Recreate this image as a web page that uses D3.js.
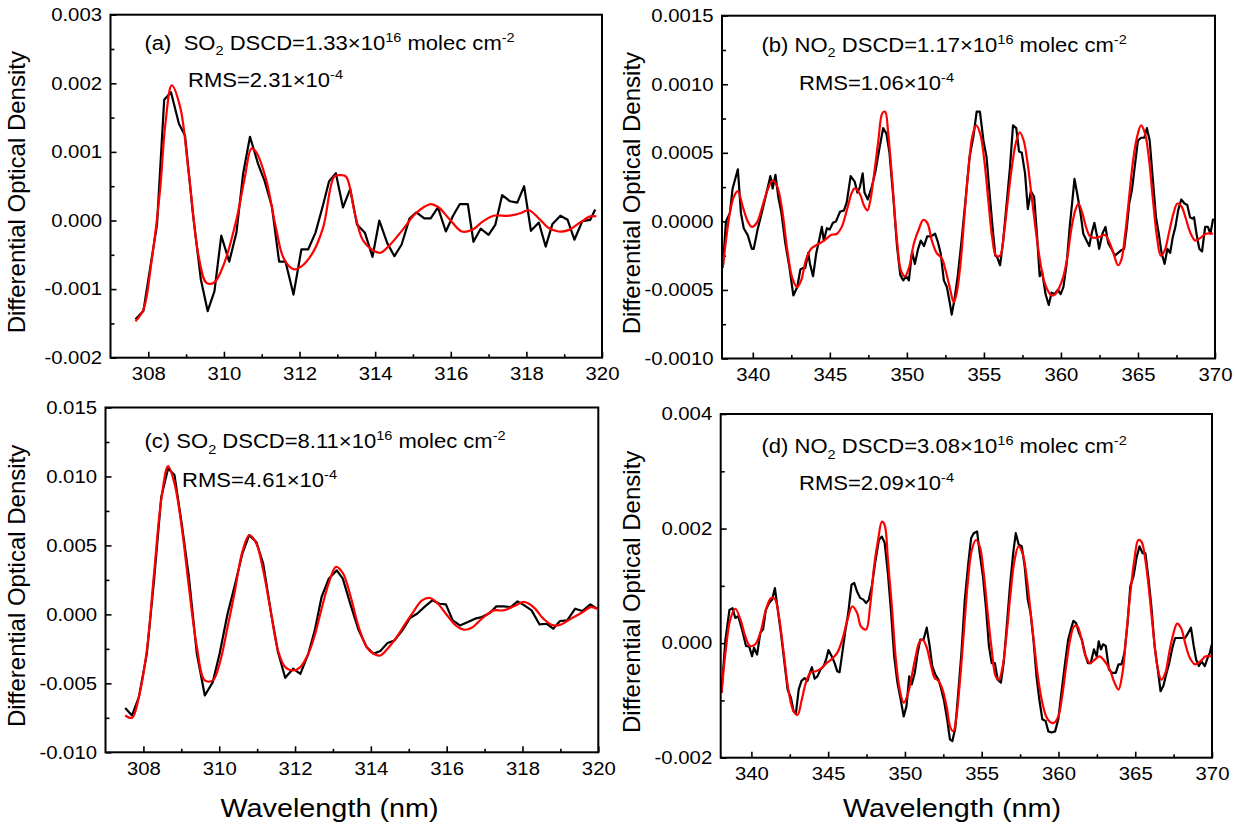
<!DOCTYPE html>
<html>
<head>
<meta charset="utf-8">
<script src="https://cdn.jsdelivr.net/npm/d3@7"></script>
<style>
  body { margin: 0; background: #fff; }
  svg { display: block; }
  text { font-family: "Liberation Sans", Arial, sans-serif; fill: #000; }
</style>
</head>
<body>
<svg id="chart" width="1235" height="830"></svg>
<script>
// ---- data ----
// (a) SO2, low column
var aMeasWl = [307.66,307.87,308.23,308.42,308.6,308.81,308.97,309.18,309.39,309.57,309.75,309.93,310.14,310.33,310.51,310.69,310.9,311.08,311.27,311.46,311.63,311.84,312.05,312.23,312.42,312.61,312.78,312.96,313.15,313.34,313.52,313.73,313.93,314.11,314.32,314.51,314.7,314.91,315.09,315.3,315.47,315.66,315.87,316.06,316.24,316.45,316.6,316.79,317.0,317.18,317.36,317.57,317.76,317.94,318.12,318.33,318.51,318.69,318.9,319.09,319.27,319.48,319.69,319.82];
var aMeas = [-0.00144,-0.00132,-0.00006,0.00176,0.00187,0.00141,0.00124,0.0001,-0.00086,-0.00132,-0.00103,-0.00022,-0.0006,-0.00018,0.00069,0.00122,0.00083,0.00057,0.0002,-0.0006,-0.0006,-0.00108,-0.00042,-0.00042,-0.00018,0.0002,0.00057,0.00069,0.00019,0.00046,-0.00006,-0.00018,-0.00053,0.0,-0.00033,-0.00052,-0.00035,0.00003,0.00012,0.00003,0.00003,0.00019,-0.00016,0.00007,0.00024,0.00024,-0.00031,-0.00012,-0.00021,-0.00006,0.00037,0.00028,0.00026,0.0005,-0.00015,-0.00003,-0.00038,-0.00005,0.00007,0.00001,-0.00028,-0.00001,0.00001,0.00016];
var aFitWl = [307.66,307.87,308.08,308.31,308.45,308.62,308.84,309.07,309.33,309.54,309.75,310.01,310.33,310.54,310.73,310.85,311.11,311.37,311.58,311.84,312.05,312.37,312.63,312.92,313.07,313.23,313.46,313.67,313.93,314.14,314.4,314.72,315.03,315.3,315.47,315.66,315.98,316.29,316.55,316.86,317.13,317.55,317.86,318.07,318.33,318.59,318.85,319.11,319.42,319.69,319.85];
var aFit = [-0.00147,-0.0013,-0.00062,0.00044,0.0014,0.00197,0.00166,0.00069,-0.00052,-0.00091,-0.0009,-0.00062,0.00001,0.00059,0.00105,0.001,0.00061,-0.00009,-0.00055,-0.00071,-0.00067,-0.00045,-0.00009,0.00064,0.00066,0.00064,0.00011,-0.00028,-0.00043,-0.00047,-0.00035,-0.00014,0.00008,0.0002,0.00024,0.0002,0.00001,-0.00016,-0.00014,-0.00001,0.00007,0.00007,0.00011,0.00015,0.00003,-0.00011,-0.00016,-0.00014,-0.00003,0.00006,0.00006];

// (b) NO2, low column
var bMeasWl = [338.05,338.26,338.51,338.69,339.03,339.23,339.41,339.67,339.93,340.06,340.31,340.62,340.83,341.14,341.29,341.47,341.65,341.86,342.11,342.37,342.63,342.88,343.09,343.27,343.4,343.6,343.71,343.91,344.12,344.3,344.48,344.61,344.81,344.99,345.2,345.4,345.66,345.92,346.1,346.35,346.61,346.79,346.95,347.13,347.25,347.46,347.72,347.97,348.23,348.46,348.67,348.87,349.13,349.36,349.57,349.77,349.95,350.13,350.34,350.52,350.73,350.9,351.11,351.32,351.57,351.83,352.01,352.19,352.4,352.6,352.78,352.91,353.09,353.3,353.55,353.81,354.07,354.32,354.53,354.74,354.97,355.17,355.35,355.56,355.74,355.86,356.05,356.25,356.46,356.69,356.89,357.1,357.28,357.46,357.67,357.85,358.05,358.26,358.44,358.62,358.77,359.0,359.21,359.39,359.59,359.8,359.98,360.16,360.37,360.57,360.75,360.88,361.09,361.27,361.45,361.66,361.84,361.99,362.17,362.35,362.48,362.69,362.89,363.07,363.33,363.51,363.71,363.92,364.1,364.28,364.43,364.61,364.79,365.0,365.2,365.41,365.58,365.76,365.97,366.17,366.35,366.53,366.73,366.91,367.09,367.25,367.43,367.61,367.81,368.02,368.2,368.38,368.53,368.64,368.8,368.98,369.16,369.36,369.54,369.7,369.88];
var bMeas = [-0.00034,0.0,0.00006,0.00024,0.00038,0.00006,-0.00005,-0.0001,-0.0002,-0.0002,-0.00006,0.00008,0.00018,0.00033,0.00024,0.00034,0.00018,0.00006,-0.00016,-0.00033,-0.00054,-0.00048,-0.00035,-0.00034,-0.00034,-0.00023,-0.00031,-0.0004,-0.00023,-0.00014,-0.00004,-0.00014,-0.00005,-0.00006,-0.00001,0.0,0.00007,0.00008,0.00014,0.00033,0.00029,0.00021,0.00025,0.00035,0.00021,0.00016,0.00025,0.00037,0.00054,0.00068,0.00064,0.0005,0.00016,-0.00018,-0.00039,-0.00043,-0.0004,-0.00043,-0.00022,-0.00031,-0.0002,-0.00014,-0.00018,-0.00011,-0.00011,-0.00009,-0.00015,-0.00023,-0.00043,-0.00048,-0.00059,-0.00068,-0.00057,-0.0004,-0.00014,0.00016,0.00047,0.00062,0.0008,0.0008,0.00059,0.00047,0.00023,-0.00004,-0.00025,-0.00026,-0.00032,-0.00014,0.00011,0.00039,0.0007,0.00068,0.00051,0.0005,0.00035,0.00009,0.00022,0.00018,-0.00009,-0.0004,-0.00036,-0.00053,-0.00061,-0.00052,-0.00053,-0.0005,-0.00053,-0.00048,-0.00031,-0.00004,0.00016,0.00031,0.00018,0.00006,-0.00009,-0.00014,-0.00018,-0.00009,-0.00001,-0.00011,-0.0002,-0.00009,-0.00004,-0.00016,-0.00021,-0.00025,-0.00023,-0.00021,-0.0002,-0.00004,0.00013,0.00023,0.0004,0.00059,0.00061,0.00061,0.00068,0.00059,0.0003,0.00003,-0.00009,-0.00023,-0.00031,-0.0002,-0.00023,-0.00012,-0.00004,0.00008,0.00016,0.00013,0.00012,0.00003,0.00002,0.00003,-0.00009,-0.0002,-0.00022,-0.00004,-0.00004,-0.00009,0.00002];
var bFitWl = [338.05,338.51,338.77,339.03,339.34,339.67,339.93,340.26,340.57,340.96,341.29,341.6,341.91,342.24,342.58,342.88,343.14,343.45,343.78,344.17,344.63,345.07,345.46,345.77,346.1,346.43,346.61,346.95,347.2,347.44,347.64,347.9,348.15,348.41,348.59,348.79,349.05,349.36,349.62,349.87,350.13,350.46,350.8,351.06,351.32,351.62,351.93,352.27,352.52,352.78,353.04,353.22,353.48,353.73,353.99,354.25,354.5,354.76,355.02,355.28,355.53,355.79,356.05,356.3,356.56,356.82,357.07,357.33,357.58,357.84,358.1,358.36,358.62,358.87,359.13,359.39,359.64,359.9,360.16,360.42,360.67,360.93,361.14,361.39,361.65,361.9,362.21,362.55,362.86,363.14,363.4,363.71,363.92,364.17,364.43,364.69,364.95,365.2,365.46,365.72,365.97,366.23,366.48,366.74,367.0,367.31,367.56,367.82,368.08,368.39,368.72,369.06,369.41,369.88];
var bFit = [-0.00034,0.00006,0.00018,0.00022,0.00011,0.0,-0.00004,-0.00001,0.00009,0.00023,0.0003,0.00025,0.00008,-0.00021,-0.00042,-0.00048,-0.00043,-0.00028,-0.0002,-0.00017,-0.00014,-0.0001,-0.00009,-0.00004,0.00008,0.00021,0.00024,0.0002,0.00012,0.00008,0.00016,0.00037,0.00059,0.00079,0.0008,0.00064,0.0003,-0.00014,-0.00036,-0.0004,-0.00034,-0.00016,-0.00005,0.00001,-0.00001,-0.00014,-0.00023,-0.00027,-0.00036,-0.00048,-0.00059,-0.00053,-0.00031,0.00003,0.00037,0.00062,0.0007,0.00064,0.00045,0.00016,-0.00011,-0.00025,-0.00025,-0.00009,0.00016,0.0004,0.00057,0.00065,0.00059,0.00042,0.00018,-0.00006,-0.00027,-0.00042,-0.0005,-0.00054,-0.00053,-0.00048,-0.0004,-0.00026,-0.00006,0.00008,0.00013,0.00006,-0.00005,-0.00011,-0.00012,-0.00011,-0.0001,-0.00015,-0.00023,-0.00032,-0.00028,-0.00009,0.00018,0.00045,0.00062,0.0007,0.00064,0.00045,0.00016,-0.00011,-0.00025,-0.00021,-0.00009,0.00006,0.00013,0.00011,0.00003,-0.00008,-0.00014,-0.00012,-0.00009,-0.00009];

// (c) SO2, high column
var cMeasWl = [307.52,307.7,307.88,308.09,308.28,308.47,308.65,308.82,309.01,309.2,309.41,309.62,309.83,310.01,310.22,310.4,310.61,310.79,310.98,311.16,311.37,311.55,311.74,311.95,312.14,312.35,312.52,312.7,312.89,313.1,313.26,313.47,313.68,313.89,314.07,314.25,314.44,314.62,314.83,315.04,315.22,315.43,315.62,315.81,315.98,316.16,316.35,316.56,316.75,316.93,317.14,317.31,317.5,317.69,317.87,318.05,318.24,318.45,318.64,318.81,318.99,319.18,319.39,319.58,319.79,319.97];
var cMeas = [-0.00678,-0.00733,-0.006,-0.00286,0.00247,0.0085,0.01058,0.0101,0.00658,0.00271,-0.00286,-0.00588,-0.00491,-0.00286,0.00005,0.00198,0.0044,0.00574,0.00525,0.00368,0.00005,-0.00273,-0.0046,-0.00394,-0.00431,-0.00286,-0.00116,0.00126,0.00259,0.00319,0.00259,0.00065,-0.00116,-0.00237,-0.00286,-0.00266,-0.00208,-0.00189,-0.00116,-0.00024,0.00005,0.00058,0.00102,0.00077,0.00073,-0.00044,-0.0008,-0.00056,-0.00031,-0.00019,0.0001,0.00058,0.00058,0.00053,0.00094,0.00065,0.00029,-0.00073,-0.00068,-0.00104,-0.00048,-0.00044,0.00041,0.00024,0.00073,0.00041];
var cFitWl = [307.52,307.7,307.88,308.09,308.28,308.47,308.65,308.82,309.01,309.2,309.41,309.62,309.83,310.01,310.22,310.4,310.61,310.79,310.98,311.16,311.37,311.55,311.74,311.95,312.14,312.35,312.52,312.7,312.89,313.08,313.26,313.47,313.68,313.89,314.07,314.25,314.44,314.67,314.88,315.09,315.35,315.56,315.77,315.98,316.24,316.46,316.66,316.93,317.24,317.5,317.82,318.03,318.29,318.55,318.81,319.02,319.28,319.55,319.81,319.97];
var cFit = [-0.00733,-0.0075,-0.006,-0.00261,0.00295,0.00828,0.01075,0.00949,0.00634,0.00198,-0.00237,-0.00479,-0.00479,-0.00358,-0.00092,0.0015,0.00453,0.00574,0.00513,0.00319,0.00005,-0.00261,-0.00382,-0.00407,-0.00382,-0.00286,-0.00152,0.00041,0.00227,0.00344,0.003,0.00126,-0.00092,-0.00237,-0.00286,-0.00298,-0.00249,-0.00169,-0.0008,0.00005,0.00102,0.00119,0.00077,0.00005,-0.0008,-0.00111,-0.00097,-0.00031,0.00029,0.00029,0.00065,0.0009,0.00053,-0.00031,-0.0008,-0.00073,-0.00031,0.0001,0.00053,0.00041];

// (d) NO2, high column
var dMeasWl = [338.05,338.31,338.57,338.77,338.95,339.14,339.39,339.65,339.86,340.04,340.17,340.37,340.58,340.76,340.94,341.15,341.35,341.53,341.72,341.92,342.13,342.36,342.57,342.75,342.9,343.08,343.26,343.47,343.65,343.81,343.94,344.12,344.3,344.5,344.71,344.89,345.02,345.23,345.41,345.59,345.74,345.92,346.1,346.31,346.52,346.7,346.88,347.08,347.29,347.47,347.65,347.86,348.06,348.3,348.5,348.68,348.89,349.1,349.3,349.51,349.72,349.92,350.1,350.28,350.44,350.64,350.83,351.0,351.21,351.42,351.6,351.78,351.98,352.19,352.37,352.55,352.75,352.93,353.09,353.28,353.47,353.68,353.9,354.13,354.31,354.48,354.7,354.87,355.08,355.29,355.47,355.65,355.86,356.04,356.25,356.43,356.63,356.84,357.05,357.22,357.41,357.61,357.8,358.0,358.18,358.37,358.57,358.75,358.95,359.16,359.34,359.55,359.78,359.99,360.19,360.43,360.63,360.81,360.97,361.15,361.33,361.53,361.74,361.92,362.1,362.31,362.49,362.62,362.77,362.9,363.08,363.29,363.5,363.73,363.91,364.11,364.3,364.5,364.68,364.89,365.1,365.28,365.48,365.66,365.87,366.05,366.26,366.44,366.65,366.83,367.01,367.21,367.42,367.6,367.81,368.04,368.25,368.45,368.63,368.81,368.97,369.15,369.32,369.53,369.71,369.86,369.99];
var dMeas = [-0.00087,0.00006,0.00058,0.00061,0.00044,0.00047,0.00024,-0.00005,-0.00006,-0.00023,-0.00008,-0.0002,0.00018,0.00024,0.00058,0.0007,0.00076,0.00096,0.00058,0.00018,-0.00029,-0.00081,-0.00095,-0.00119,-0.00122,-0.00081,-0.00066,-0.00061,-0.00066,-0.00052,-0.00042,-0.00062,-0.00058,-0.00046,-0.0004,-0.00026,-0.00012,-0.00023,-0.00034,-0.00049,-0.00051,-0.00017,0.00018,0.00053,0.00102,0.00105,0.0009,0.00079,0.00076,0.0007,0.00076,0.00102,0.0014,0.0018,0.00186,0.00175,0.00122,0.00053,-0.00023,-0.00069,-0.00098,-0.00128,-0.0011,-0.00058,-0.00072,-0.00052,-0.00017,0.00006,0.00006,0.00027,-0.00003,-0.0004,-0.00055,-0.00064,-0.00081,-0.00101,-0.00133,-0.00168,-0.00171,-0.00148,-0.00087,-0.00017,0.00076,0.0014,0.00183,0.00192,0.00195,0.00157,0.00117,0.00058,-0.00005,-0.00035,-0.00035,-0.00064,-0.00069,-0.00035,0.00029,0.00099,0.00157,0.00192,0.00172,0.00169,0.00134,0.00076,0.00053,0.00006,-0.00058,-0.00098,-0.00133,-0.00136,-0.00154,-0.00156,-0.00154,-0.00133,-0.00087,-0.00035,0.00006,0.00024,0.00039,0.00035,0.00018,0.00006,-0.0002,-0.00035,-0.00035,-0.00011,-0.00023,0.00003,-0.00011,-0.00002,-0.00005,-0.00046,-0.00052,-0.00052,-0.00037,-0.00037,-0.00017,0.00035,0.00099,0.00117,0.00151,0.00169,0.00157,0.00157,0.00111,0.00064,-0.00005,-0.0004,-0.00084,-0.00075,-0.00055,-0.00035,-0.00008,0.00009,0.00009,0.00009,0.00009,0.00018,0.00027,-0.00005,-0.00029,-0.0004,-0.00032,-0.0004,-0.00026,-0.00017,-0.00002];
var dFitWl = [338.05,338.31,338.62,338.95,339.29,339.6,339.91,340.25,340.58,340.94,341.28,341.53,341.79,342.13,342.44,342.75,343.01,343.26,343.55,343.86,344.19,344.5,344.89,345.23,345.59,345.92,346.26,346.57,346.88,347.14,347.47,347.73,347.99,348.25,348.5,348.68,348.89,349.15,349.41,349.66,349.92,350.18,350.44,350.7,350.95,351.16,351.42,351.68,351.94,352.19,352.45,352.71,352.97,353.15,353.33,353.59,353.85,354.1,354.36,354.62,354.87,355.13,355.39,355.65,355.91,356.11,356.37,356.63,356.89,357.14,357.4,357.66,357.92,358.17,358.43,358.69,358.95,359.2,359.46,359.72,359.99,360.24,360.5,360.76,361.01,361.22,361.48,361.74,362.05,362.35,362.68,363.02,363.34,363.65,363.91,364.17,364.43,364.68,364.94,365.2,365.41,365.66,365.92,366.18,366.44,366.7,366.96,367.21,367.47,367.73,367.99,368.25,368.56,368.89,369.23,369.59,369.99];
var dFit = [-0.00087,-0.00017,0.00041,0.0006,0.00041,0.00012,-0.00005,-0.00002,0.00018,0.00058,0.00079,0.00077,0.00047,-0.00023,-0.00087,-0.00119,-0.00125,-0.00101,-0.00069,-0.00051,-0.00049,-0.00045,-0.00035,-0.00028,-0.00017,0.00006,0.00041,0.00064,0.00053,0.00029,0.00024,0.00064,0.00134,0.0018,0.00212,0.00206,0.00146,0.00064,-0.00029,-0.00081,-0.00104,-0.0009,-0.00058,-0.00023,0.00002,0.00006,-0.00008,-0.00037,-0.00061,-0.00066,-0.00081,-0.0011,-0.00148,-0.00154,-0.00133,-0.00064,0.00024,0.00108,0.00163,0.0018,0.00169,0.00122,0.00053,-0.00011,-0.00058,-0.00064,-0.0004,0.00018,0.0009,0.00145,0.00169,0.00157,0.00117,0.00058,-0.00005,-0.00064,-0.00104,-0.00128,-0.00138,-0.00139,-0.00128,-0.00093,-0.0004,0.00006,0.00029,0.0003,0.00009,-0.0002,-0.00035,-0.00029,-0.00023,-0.00032,-0.00046,-0.00069,-0.00081,-0.00052,0.00018,0.00087,0.00145,0.0018,0.00177,0.00145,0.00087,0.00018,-0.0004,-0.00064,-0.00052,-0.00017,0.00015,0.00034,0.00026,0.0,-0.00026,-0.00037,-0.00032,-0.00023,-0.00023];

// axis ticks
var so2XTicks = [308, 310, 312, 314, 316, 318, 320];
var so2XMinor = [309, 311, 313, 315, 317, 319];
var no2XTicks = [340, 345, 350, 355, 360, 365, 370];
var no2XMinor = [342.5, 347.5, 352.5, 357.5, 362.5, 367.5];
var aYTicks = [-0.002, -0.001, 0.000, 0.001, 0.002, 0.003];
var aYMinor = [-0.0015, -0.0005, 0.0005, 0.0015, 0.0025];
var bYTicks = [-0.0010, -0.0005, 0.0000, 0.0005, 0.0010, 0.0015];
var bYMinor = [-0.00075, -0.00025, 0.00025, 0.00075, 0.00125];
var cYTicks = [-0.010, -0.005, 0.000, 0.005, 0.010, 0.015];
var cYMinor = [-0.0075, -0.0025, 0.0025, 0.0075, 0.0125];
var dYTicks = [-0.002, 0.000, 0.002, 0.004];
var dYMinor = [-0.001, 0.001, 0.003];

// figure text
var yTitle = "Differential Optical Density";
var xTitle = "Wavelength (nm)";

var SX = 1.13;   // the source image is a bit stretched sideways

var svg = d3.select("#chart");

var panels = [
  { box: [110.5, 14.7, 602, 357.7], xDom: [307, 320], yDom: [-0.002, 0.003],
    xT: so2XTicks, xM: so2XMinor, yT: aYTicks, yM: aYMinor, fmt: ".3f",
    meas: [aMeasWl, aMeas], fit: [aFitWl, aFit],
    head: [["(a)\u00a0 SO", "n"], ["2", "sub"], [" DSCD=1.33\u00d710", "n"], ["16", "sup"], [" molec cm", "n"], ["-2", "sup"]],
    headPos: [144.5, 50], rms: [["RMS=2.31\u00d710", "n"], ["-4", "sup"]], rmsPos: [188, 87],
    yLabX: 25, xLab: false },
  { box: [722, 15.7, 1215, 358.5], xDom: [338, 370], yDom: [-0.001, 0.0015],
    xT: no2XTicks, xM: no2XMinor, yT: bYTicks, yM: bYMinor, fmt: ".4f",
    meas: [bMeasWl, bMeas], fit: [bFitWl, bFit],
    head: [["(b) NO", "n"], ["2", "sub"], [" DSCD=1.17\u00d710", "n"], ["16", "sup"], [" molec cm", "n"], ["-2", "sup"]],
    headPos: [761.5, 51.7], rms: [["RMS=1.06\u00d710", "n"], ["-4", "sup"]], rmsPos: [799, 90],
    yLabX: 640, xLab: false },
  { box: [105.5, 407.5, 598.3, 752.3], xDom: [307, 320], yDom: [-0.010, 0.015],
    xT: so2XTicks, xM: so2XMinor, yT: cYTicks, yM: cYMinor, fmt: ".3f",
    meas: [cMeasWl, cMeas], fit: [cFitWl, cFit],
    head: [["(c) SO", "n"], ["2", "sub"], [" DSCD=8.11\u00d710", "n"], ["16", "sup"], [" molec cm", "n"], ["-2", "sup"]],
    headPos: [144.5, 448.3], rms: [["RMS=4.61\u00d710", "n"], ["-4", "sup"]], rmsPos: [182, 486.7],
    yLabX: 25, xLab: [329.5, 817] },
  { box: [720.7, 414, 1212, 757.7], xDom: [338, 370], yDom: [-0.002, 0.004],
    xT: no2XTicks, xM: no2XMinor, yT: dYTicks, yM: dYMinor, fmt: ".3f",
    meas: [dMeasWl, dMeas], fit: [dFitWl, dFit],
    head: [["(d) NO", "n"], ["2", "sub"], [" DSCD=3.08\u00d710", "n"], ["16", "sup"], [" molec cm", "n"], ["-2", "sup"]],
    headPos: [761.5, 453.3], rms: [["RMS=2.09\u00d710", "n"], ["-4", "sup"]], rmsPos: [799, 490],
    yLabX: 640, xLab: [952, 817] }
];

// text with sub/superscripts, stretched like the source
function richText(x, y, parts, size) {
  var g = svg.append("g").attr("transform", "translate(" + x + "," + y + ") scale(" + SX + ",1)");
  var t = g.append("text").attr("font-size", size);
  var shift = 0;
  parts.forEach(function(p) {
    var target = p[1] === "sup" ? -0.42 * size : (p[1] === "sub" ? 0.28 * size : 0);
    t.append("tspan")
      .attr("dy", target - shift)
      .attr("font-size", p[1] === "n" ? size : size * 0.66)
      .text(p[0]);
    shift = target;
  });
}

function styleAxis(g) {
  g.select(".domain").remove();
  g.selectAll(".tick line").attr("stroke", "#000").attr("stroke-width", 1.6);
  g.selectAll(".tick text")
    .attr("font-size", 18)
    .attr("font-family", '"Liberation Sans", Arial, sans-serif')
    .attr("transform", "scale(" + SX + ",1)");
}

panels.forEach(function(p) {
  var L = p.box[0], T = p.box[1], R = p.box[2], B = p.box[3];
  var x = d3.scaleLinear().domain(p.xDom).range([L, R]);
  var y = d3.scaleLinear().domain(p.yDom).range([B, T]);
  var yFmt = function(v) { return d3.format(p.fmt)(v).replace("\u2212", "-"); };

  // bottom axis, ticks pointing inward
  svg.append("g").attr("transform", "translate(0," + B + ")")
    .call(d3.axisBottom(x).tickValues(p.xT).tickSizeInner(-6).tickSizeOuter(0).tickPadding(10).tickFormat(d3.format("d")))
    .call(styleAxis);
  svg.append("g").attr("transform", "translate(0," + B + ")")
    .call(d3.axisBottom(x).tickValues(p.xM).tickSizeInner(-3.5).tickSizeOuter(0).tickFormat(""))
    .call(styleAxis);

  // left axis
  svg.append("g").attr("transform", "translate(" + L + ",0)")
    .call(d3.axisLeft(y).tickValues(p.yT).tickSizeInner(-6).tickSizeOuter(0).tickPadding(7.5).tickFormat(yFmt))
    .call(styleAxis);
  svg.append("g").attr("transform", "translate(" + L + ",0)")
    .call(d3.axisLeft(y).tickValues(p.yM).tickSizeInner(-4).tickSizeOuter(0).tickFormat(""))
    .call(styleAxis);

  // measured (black) and fitted (red) spectra
  var lineM = d3.line().x(function(d) { return x(d[0]); }).y(function(d) { return y(d[1]); });
  var lineF = d3.line().x(function(d) { return x(d[0]); }).y(function(d) { return y(d[1]); })
    .curve(d3.curveCatmullRom.alpha(0.5));

  svg.append("path").datum(d3.zip(p.meas[0], p.meas[1]))
    .attr("d", lineM).attr("fill", "none").attr("stroke", "#000")
    .attr("stroke-width", 2.2).attr("stroke-linejoin", "round");
  svg.append("path").datum(d3.zip(p.fit[0], p.fit[1]))
    .attr("d", lineF).attr("fill", "none").attr("stroke", "#ff0000")
    .attr("stroke-width", 2.2).attr("stroke-linejoin", "round");

  // frame
  svg.append("rect").attr("x", L).attr("y", T).attr("width", R - L).attr("height", B - T)
    .attr("fill", "none").attr("stroke", "#000").attr("stroke-width", 2);

  // annotations
  richText(p.headPos[0], p.headPos[1], p.head, 19.5);
  richText(p.rmsPos[0], p.rmsPos[1], p.rms, 19.5);

  // y title
  svg.append("text")
    .attr("transform", "translate(" + p.yLabX + "," + ((T + B) / 2 + 6) + ") rotate(-90)")
    .attr("text-anchor", "middle").attr("font-size", 24)
    .text(yTitle);

  // x title (bottom row only)
  if (p.xLab) {
    svg.append("g").attr("transform", "translate(" + p.xLab[0] + "," + p.xLab[1] + ") scale(" + SX + ",1)")
      .append("text").attr("text-anchor", "middle").attr("font-size", 25.5)
      .text(xTitle);
  }
});
</script>
</body>
</html>
